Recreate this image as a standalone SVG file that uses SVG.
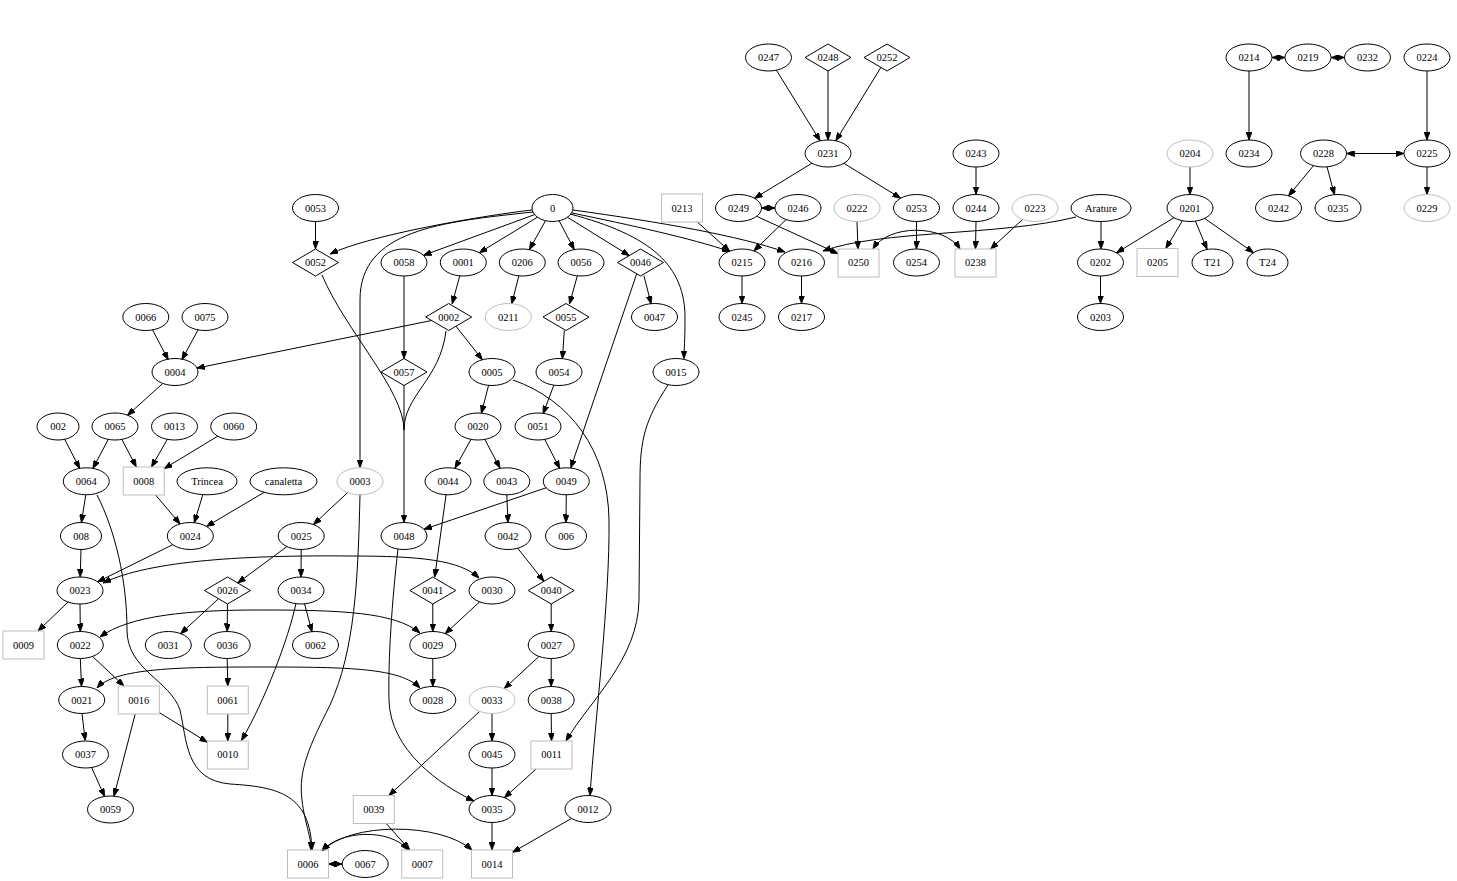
<svg xmlns="http://www.w3.org/2000/svg" width="1457" height="881" viewBox="0 0 1457 881">
<style>
.n ellipse,.n rect,.n polygon{fill:none;stroke:#000;stroke-width:1}
.g ellipse,.g rect,.g polygon{stroke:#bebebe}
text{font-family:"Liberation Serif","Times New Roman",serif;font-size:10.5px;text-anchor:middle;fill:#000}
#edges path{fill:none;stroke:#000;stroke-width:1;marker-end:url(#ah)}
#edges path.bi{marker-start:url(#ah)}
#edges path.nm{marker-end:none}
</style>
<defs>
<marker id="ah" viewBox="0 0 8 6" refX="8" refY="3" markerWidth="8" markerHeight="6" markerUnits="userSpaceOnUse" orient="auto-start-reverse"><path d="M0,0L8,3L0,6z" fill="#000" stroke="#000" stroke-width="0.8"/></marker>
</defs>
<rect width="1457" height="881" fill="#fff"/>
<g id="edges">
<path d="M776.4,70.2L820.1,140.8"/>
<path d="M828,71L828,140"/>
<path d="M880.9,67.4L835.8,140.8"/>
<path d="M812,163.2L754.5,198.3"/>
<path d="M843.9,163.3L900.6,198.2"/>
<path class="bi" d="M761.5,208L775,208"/>
<path d="M786.1,219.6L753.9,250.9"/>
<path d="M697.4,222L729.6,251.2"/>
<path d="M756.6,216.3L838,253.6"/>
<path d="M857,221.5L858,249"/>
<path d="M916.5,221.5L916.5,249"/>
<path d="M976,167L976,194.5"/>
<path d="M976,221.5L975.5,249"/>
<path d="M1022.7,219.3L990.6,249"/>
<path class="bi" d="M873,249C888,224 944,224 960,249"/>
<path d="M1076,217C1000,236 880,230 823,251"/>
<path d="M1101,221.5L1101,249"/>
<path d="M1190,167L1190,194.5"/>
<path d="M1174,217.7L1116.5,252.8"/>
<path d="M1182.4,220.7L1165.8,248.5"/>
<path d="M1195.4,221.1L1207.1,249.4"/>
<path d="M1204.7,218.4L1253.5,252.7"/>
<path d="M1100.5,276L1100.5,303.5"/>
<path d="M742,276L742,303.5"/>
<path d="M801.5,276L801.5,303.5"/>
<path class="bi" d="M1272,57.5L1285,57.5"/>
<path class="bi" d="M1331,57.5L1344.5,57.5"/>
<path d="M1249,71L1249,140"/>
<path d="M1427,71L1427,140"/>
<path class="bi" d="M1346.5,153.5L1404,153.5"/>
<path d="M1427,167L1427,194.5"/>
<path d="M1313.5,165.6L1288.5,195.9"/>
<path d="M1327,166.8L1334.5,194.7"/>
<path d="M315.5,221.5L315.5,249"/>
<path d="M532,210C480,216 370,235 330,254"/>
<path d="M533,212C440,222 360,230 360,300L360,467.5"/>
<path d="M534.6,214.6L423.5,255.3"/>
<path d="M537.5,217.2L479.3,252.7"/>
<path d="M545.5,220.7L529.4,249.6"/>
<path d="M559.2,220.8L574.2,249.6"/>
<path d="M567.5,217.3L629.3,255.6"/>
<path d="M572,213C630,225 690,238 730,251.5"/>
<path d="M573,210C660,222 740,236 785,252"/>
<path d="M570,214C650,235 686,265 685,320C685,340 684,350 684,358.5"/>
<path d="M459.8,275.6L452.2,303.8"/>
<path d="M431.6,320.5L196.8,368.1"/>
<path d="M456,326.2L482.3,359.7"/>
<path class="nm" d="M446,331C440,380 404,395 404,430"/>
<path class="nm" d="M322,275C345,330 404,390 404,430"/>
<path d="M404,276L404,358.5"/>
<path d="M404,385.5L404,522.5"/>
<path d="M518.9,275.6L511.7,303.9"/>
<path d="M577.4,275.6L569.5,303.9"/>
<path d="M564.3,330.5L562.4,358.9"/>
<path d="M643.9,275.6L651.1,303.9"/>
<path d="M636.7,273.8L570.8,467.9"/>
<path d="M488.6,385.1L481.4,413.4"/>
<path d="M513,380C570,400 608,450 609,520C610,600 595,720 590,795.5"/>
<path d="M553.9,385L543.1,413.8"/>
<path d="M544.7,439.4L559.7,468.4"/>
<path d="M668,385C645,420 640,440 640,480L639,600C638,660 590,700 566,741"/>
<path d="M471,439.3L455,468.2"/>
<path d="M484.8,439.4L500,468.1"/>
<path d="M546.4,487.7L423.9,529.3"/>
<path d="M566.3,494.5L566,522.5"/>
<path d="M506.8,494.5L508,522.5"/>
<path d="M446.1,494.4L434.7,577"/>
<path d="M517.7,548.2L543.9,581.3"/>
<path d="M551.2,604L551.2,631.5"/>
<path d="M432.8,604L432.8,631.5"/>
<path d="M479.7,601.8L445.1,633.7"/>
<path d="M432.8,658.5L432.8,686.5"/>
<path d="M539,656.4L504.2,688.6"/>
<path d="M551.2,658.5L551.2,686.5"/>
<path d="M551.2,713.5L551.5,741"/>
<path d="M492,713.5L492,741"/>
<path d="M479.7,711.4L388.9,795.5"/>
<path d="M492,768L492,795.5"/>
<path d="M536.1,769L504.4,797.7"/>
<path d="M398,549C392,600 388,660 389,700C390,750 440,785 474,801"/>
<path d="M492,822.5L492,850"/>
<path d="M571.5,818.4L512.5,852.3"/>
<path d="M386.2,823.5L409.8,850"/>
<path class="bi" d="M328.5,864L342,864"/>
<path class="bi" d="M322,851C340,830 390,828 408,850"/>
<path class="bi" d="M322,851C350,822 440,822 472,850"/>
<path d="M347.8,492.4L313.4,524.6"/>
<path d="M360,494.5C358,580 355,650 330,705C310,745 298,770 302,800C305,825 311,835 311,850"/>
<path d="M286.9,546.6L237.7,583"/>
<path d="M301.2,549.5L301,577"/>
<path d="M218.5,598.7L180.6,633.7"/>
<path d="M227.5,604L227.2,631.5"/>
<path d="M227.2,658.5L227.8,686"/>
<path d="M227.8,714L227.8,741"/>
<path d="M304.5,603.6L312,631.9"/>
<path d="M296,603.5C288,640 265,700 241.5,740.5"/>
<path d="M159.3,712.6L207.3,742.2"/>
<path d="M135.2,714L114,796.2"/>
<path d="M80.3,658.5L81.5,686.5"/>
<path d="M92.5,656.4L124,686"/>
<path d="M82,713.5L85.2,740.5"/>
<path d="M91.4,767L104.6,796.5"/>
<path d="M68.1,602L38,631"/>
<path d="M80,604L80.3,631.5"/>
<path d="M81,549.5L80.2,577"/>
<path d="M172.7,544.7L97.6,581.8"/>
<path d="M85.8,494.8L81.4,522.5"/>
<path d="M97,495C115,530 127,580 127,630C127,670 170,680 180,710C187,740 185,780 230,784C280,787 310,795 312,850"/>
<path d="M64.6,439.2L79.7,468.5"/>
<path d="M108.3,439.3L92.9,468.5"/>
<path d="M121.8,439.3L136.3,467"/>
<path d="M167.4,439.1L151.5,467"/>
<path d="M217.7,436.2L164.2,468.6"/>
<path d="M155.6,495L180.1,524"/>
<path d="M203,494L194.3,522.8"/>
<path d="M264.6,492.1L206.5,526.4"/>
<path d="M162.5,383.7L127.5,415.3"/>
<path d="M152.5,329.8L168.2,359.7"/>
<path d="M198.1,329.8L181.9,359.7"/>
<path class="bi" d="M103,583C150,560 250,555 350,556C420,556 460,560 479,578"/>
<path class="bi" d="M100,637C130,615 190,610 260,610C340,610 395,612 420,633"/>
<path class="bi" d="M97,688C115,668 180,667 260,667C350,667 400,668 420,688"/>
</g>
<g id="n0247" class="n"><ellipse cx="768.5" cy="57.5" rx="23" ry="13.5"/><text x="768.5" y="61.1">0247</text></g>
<g id="n0248" class="n"><polygon points="805,57.5 828,44 851,57.5 828,71"/><text x="828" y="61.1">0248</text></g>
<g id="n0252" class="n"><polygon points="864,57.5 887,44 910,57.5 887,71"/><text x="887" y="61.1">0252</text></g>
<g id="n0214" class="n"><ellipse cx="1249" cy="57.5" rx="23" ry="13.5"/><text x="1249" y="61.1">0214</text></g>
<g id="n0219" class="n"><ellipse cx="1308" cy="57.5" rx="23" ry="13.5"/><text x="1308" y="61.1">0219</text></g>
<g id="n0232" class="n"><ellipse cx="1367.5" cy="57.5" rx="23" ry="13.5"/><text x="1367.5" y="61.1">0232</text></g>
<g id="n0224" class="n"><ellipse cx="1427" cy="57.5" rx="23" ry="13.5"/><text x="1427" y="61.1">0224</text></g>
<g id="n0231" class="n"><ellipse cx="828" cy="153.5" rx="23" ry="13.5"/><text x="828" y="157.1">0231</text></g>
<g id="n0243" class="n"><ellipse cx="976" cy="153.5" rx="23" ry="13.5"/><text x="976" y="157.1">0243</text></g>
<g id="n0204" class="n g"><ellipse cx="1190" cy="153.5" rx="23" ry="13.5"/><text x="1190" y="157.1">0204</text></g>
<g id="n0234" class="n"><ellipse cx="1249" cy="153.5" rx="23" ry="13.5"/><text x="1249" y="157.1">0234</text></g>
<g id="n0228" class="n"><ellipse cx="1323.5" cy="153.5" rx="23" ry="13.5"/><text x="1323.5" y="157.1">0228</text></g>
<g id="n0225" class="n"><ellipse cx="1427" cy="153.5" rx="23" ry="13.5"/><text x="1427" y="157.1">0225</text></g>
<g id="n0053" class="n"><ellipse cx="315.5" cy="208" rx="23" ry="13.5"/><text x="315.5" y="211.6">0053</text></g>
<g id="n0" class="n"><ellipse cx="552.5" cy="208" rx="20.5" ry="13.5"/><text x="552.5" y="211.6">0</text></g>
<g id="n0213" class="n g"><rect x="661.5" y="194" width="41" height="28"/><text x="682" y="211.6">0213</text></g>
<g id="n0249" class="n"><ellipse cx="738.5" cy="208" rx="23" ry="13.5"/><text x="738.5" y="211.6">0249</text></g>
<g id="n0246" class="n"><ellipse cx="798" cy="208" rx="23" ry="13.5"/><text x="798" y="211.6">0246</text></g>
<g id="n0222" class="n g"><ellipse cx="857" cy="208" rx="23" ry="13.5"/><text x="857" y="211.6">0222</text></g>
<g id="n0253" class="n"><ellipse cx="916.5" cy="208" rx="23" ry="13.5"/><text x="916.5" y="211.6">0253</text></g>
<g id="n0244" class="n"><ellipse cx="976" cy="208" rx="23" ry="13.5"/><text x="976" y="211.6">0244</text></g>
<g id="n0223" class="n g"><ellipse cx="1035" cy="208" rx="23" ry="13.5"/><text x="1035" y="211.6">0223</text></g>
<g id="nArature" class="n"><ellipse cx="1101" cy="208" rx="30" ry="13.5"/><text x="1101" y="211.6">Arature</text></g>
<g id="n0201" class="n"><ellipse cx="1190" cy="208" rx="23" ry="13.5"/><text x="1190" y="211.6">0201</text></g>
<g id="n0242" class="n"><ellipse cx="1278.5" cy="208" rx="23" ry="13.5"/><text x="1278.5" y="211.6">0242</text></g>
<g id="n0235" class="n"><ellipse cx="1338" cy="208" rx="23" ry="13.5"/><text x="1338" y="211.6">0235</text></g>
<g id="n0229" class="n g"><ellipse cx="1427" cy="208" rx="23" ry="13.5"/><text x="1427" y="211.6">0229</text></g>
<g id="n0052" class="n"><polygon points="292.5,262.5 315.5,249 338.5,262.5 315.5,276"/><text x="315.5" y="266.1">0052</text></g>
<g id="n0058" class="n"><ellipse cx="404" cy="262.5" rx="23" ry="13.5"/><text x="404" y="266.1">0058</text></g>
<g id="n0001" class="n"><ellipse cx="463.3" cy="262.5" rx="23" ry="13.5"/><text x="463.3" y="266.1">0001</text></g>
<g id="n0206" class="n"><ellipse cx="522.3" cy="262.5" rx="23" ry="13.5"/><text x="522.3" y="266.1">0206</text></g>
<g id="n0056" class="n"><ellipse cx="581" cy="262.5" rx="23" ry="13.5"/><text x="581" y="266.1">0056</text></g>
<g id="n0046" class="n"><polygon points="617.5,262.5 640.5,249 663.5,262.5 640.5,276"/><text x="640.5" y="266.1">0046</text></g>
<g id="n0215" class="n"><ellipse cx="742" cy="262.5" rx="23" ry="13.5"/><text x="742" y="266.1">0215</text></g>
<g id="n0216" class="n"><ellipse cx="801.5" cy="262.5" rx="23" ry="13.5"/><text x="801.5" y="266.1">0216</text></g>
<g id="n0250" class="n g"><rect x="838" y="249" width="41" height="28"/><text x="858.5" y="266.1">0250</text></g>
<g id="n0254" class="n"><ellipse cx="916.5" cy="262.5" rx="23" ry="13.5"/><text x="916.5" y="266.1">0254</text></g>
<g id="n0238" class="n g"><rect x="955" y="249" width="41" height="28"/><text x="975.5" y="266.1">0238</text></g>
<g id="n0202" class="n"><ellipse cx="1100.5" cy="262.5" rx="23" ry="13.5"/><text x="1100.5" y="266.1">0202</text></g>
<g id="n0205" class="n g"><rect x="1137" y="248.5" width="41" height="28"/><text x="1157.5" y="266.1">0205</text></g>
<g id="nT21" class="n"><ellipse cx="1212.5" cy="262.5" rx="20.5" ry="13.5"/><text x="1212.5" y="266.1">T21</text></g>
<g id="nT24" class="n"><ellipse cx="1267.5" cy="262.5" rx="20.5" ry="13.5"/><text x="1267.5" y="266.1">T24</text></g>
<g id="n0066" class="n"><ellipse cx="145.8" cy="317" rx="23" ry="13.5"/><text x="145.8" y="320.6">0066</text></g>
<g id="n0075" class="n"><ellipse cx="205" cy="317" rx="23" ry="13.5"/><text x="205" y="320.6">0075</text></g>
<g id="n0002" class="n"><polygon points="425.7,317 448.7,303.5 471.7,317 448.7,330.5"/><text x="448.7" y="320.6">0002</text></g>
<g id="n0211" class="n g"><ellipse cx="508.3" cy="317" rx="23" ry="13.5"/><text x="508.3" y="320.6">0211</text></g>
<g id="n0055" class="n"><polygon points="543,317 566,303.5 589,317 566,330.5"/><text x="566" y="320.6">0055</text></g>
<g id="n0047" class="n"><ellipse cx="654.5" cy="317" rx="23" ry="13.5"/><text x="654.5" y="320.6">0047</text></g>
<g id="n0245" class="n"><ellipse cx="742" cy="317" rx="23" ry="13.5"/><text x="742" y="320.6">0245</text></g>
<g id="n0217" class="n"><ellipse cx="801.5" cy="317" rx="23" ry="13.5"/><text x="801.5" y="320.6">0217</text></g>
<g id="n0203" class="n"><ellipse cx="1100.5" cy="317" rx="23" ry="13.5"/><text x="1100.5" y="320.6">0203</text></g>
<g id="n0004" class="n"><ellipse cx="175" cy="372" rx="23" ry="13.5"/><text x="175" y="375.6">0004</text></g>
<g id="n0057" class="n"><polygon points="381,372 404,358.5 427,372 404,385.5"/><text x="404" y="375.6">0057</text></g>
<g id="n0005" class="n"><ellipse cx="492" cy="372" rx="23" ry="13.5"/><text x="492" y="375.6">0005</text></g>
<g id="n0054" class="n"><ellipse cx="559" cy="372" rx="23" ry="13.5"/><text x="559" y="375.6">0054</text></g>
<g id="n0015" class="n"><ellipse cx="676" cy="372" rx="23" ry="13.5"/><text x="676" y="375.6">0015</text></g>
<g id="n002" class="n"><ellipse cx="58" cy="426.5" rx="21" ry="13.5"/><text x="58" y="430.1">002</text></g>
<g id="n0065" class="n"><ellipse cx="115" cy="426.5" rx="23" ry="13.5"/><text x="115" y="430.1">0065</text></g>
<g id="n0013" class="n"><ellipse cx="174.5" cy="426.5" rx="23" ry="13.5"/><text x="174.5" y="430.1">0013</text></g>
<g id="n0060" class="n"><ellipse cx="233.7" cy="426.5" rx="23" ry="13.5"/><text x="233.7" y="430.1">0060</text></g>
<g id="n0020" class="n"><ellipse cx="478" cy="426.5" rx="23" ry="13.5"/><text x="478" y="430.1">0020</text></g>
<g id="n0051" class="n"><ellipse cx="538" cy="426.5" rx="23" ry="13.5"/><text x="538" y="430.1">0051</text></g>
<g id="n0064" class="n"><ellipse cx="86.3" cy="481.3" rx="23" ry="13.5"/><text x="86.3" y="484.9">0064</text></g>
<g id="n0008" class="n g"><rect x="123.2" y="467" width="41" height="28"/><text x="143.7" y="484.9">0008</text></g>
<g id="nTrincea" class="n"><ellipse cx="207" cy="481.3" rx="30" ry="13.5"/><text x="207" y="484.9">Trincea</text></g>
<g id="ncanaletta" class="n"><ellipse cx="283.5" cy="481.3" rx="33.5" ry="13.5"/><text x="283.5" y="484.9">canaletta</text></g>
<g id="n0003" class="n g"><ellipse cx="360" cy="481.3" rx="23" ry="13.5"/><text x="360" y="484.9">0003</text></g>
<g id="n0044" class="n"><ellipse cx="448" cy="481.3" rx="23" ry="13.5"/><text x="448" y="484.9">0044</text></g>
<g id="n0043" class="n"><ellipse cx="506.8" cy="481.3" rx="23" ry="13.5"/><text x="506.8" y="484.9">0043</text></g>
<g id="n0049" class="n"><ellipse cx="566.3" cy="481.3" rx="23" ry="13.5"/><text x="566.3" y="484.9">0049</text></g>
<g id="n008" class="n"><ellipse cx="81" cy="536" rx="20.5" ry="13.5"/><text x="81" y="539.6">008</text></g>
<g id="n0024" class="n"><ellipse cx="190.3" cy="536" rx="23" ry="13.5"/><text x="190.3" y="539.6">0024</text></g>
<g id="n0025" class="n"><ellipse cx="301.2" cy="536" rx="23" ry="13.5"/><text x="301.2" y="539.6">0025</text></g>
<g id="n0048" class="n"><ellipse cx="404" cy="536" rx="23" ry="13.5"/><text x="404" y="539.6">0048</text></g>
<g id="n0042" class="n"><ellipse cx="508" cy="536" rx="23" ry="13.5"/><text x="508" y="539.6">0042</text></g>
<g id="n006" class="n"><ellipse cx="566" cy="536" rx="20.5" ry="13.5"/><text x="566" y="539.6">006</text></g>
<g id="n0023" class="n"><ellipse cx="80" cy="590.5" rx="23" ry="13.5"/><text x="80" y="594.1">0023</text></g>
<g id="n0026" class="n"><polygon points="204.5,590.5 227.5,577 250.5,590.5 227.5,604"/><text x="227.5" y="594.1">0026</text></g>
<g id="n0034" class="n"><ellipse cx="301" cy="590.5" rx="23" ry="13.5"/><text x="301" y="594.1">0034</text></g>
<g id="n0041" class="n"><polygon points="409.8,590.5 432.8,577 455.8,590.5 432.8,604"/><text x="432.8" y="594.1">0041</text></g>
<g id="n0030" class="n"><ellipse cx="492" cy="590.5" rx="23" ry="13.5"/><text x="492" y="594.1">0030</text></g>
<g id="n0040" class="n"><polygon points="528.2,590.5 551.2,577 574.2,590.5 551.2,604"/><text x="551.2" y="594.1">0040</text></g>
<g id="n0009" class="n g"><rect x="3" y="631" width="41" height="28"/><text x="23.5" y="648.6">0009</text></g>
<g id="n0022" class="n"><ellipse cx="80.3" cy="645" rx="23" ry="13.5"/><text x="80.3" y="648.6">0022</text></g>
<g id="n0031" class="n"><ellipse cx="168.3" cy="645" rx="23" ry="13.5"/><text x="168.3" y="648.6">0031</text></g>
<g id="n0036" class="n"><ellipse cx="227.2" cy="645" rx="23" ry="13.5"/><text x="227.2" y="648.6">0036</text></g>
<g id="n0062" class="n"><ellipse cx="315.5" cy="645" rx="23" ry="13.5"/><text x="315.5" y="648.6">0062</text></g>
<g id="n0029" class="n"><ellipse cx="432.8" cy="645" rx="23" ry="13.5"/><text x="432.8" y="648.6">0029</text></g>
<g id="n0027" class="n"><ellipse cx="551.2" cy="645" rx="23" ry="13.5"/><text x="551.2" y="648.6">0027</text></g>
<g id="n0021" class="n"><ellipse cx="81.7" cy="700" rx="23" ry="13.5"/><text x="81.7" y="703.6">0021</text></g>
<g id="n0016" class="n g"><rect x="118.3" y="686" width="41" height="28"/><text x="138.8" y="703.6">0016</text></g>
<g id="n0061" class="n g"><rect x="207.3" y="686" width="41" height="28"/><text x="227.8" y="703.6">0061</text></g>
<g id="n0028" class="n"><ellipse cx="432.8" cy="700" rx="23" ry="13.5"/><text x="432.8" y="703.6">0028</text></g>
<g id="n0033" class="n g"><ellipse cx="492" cy="700" rx="23" ry="13.5"/><text x="492" y="703.6">0033</text></g>
<g id="n0038" class="n"><ellipse cx="551.2" cy="700" rx="23" ry="13.5"/><text x="551.2" y="703.6">0038</text></g>
<g id="n0037" class="n"><ellipse cx="85.5" cy="754.5" rx="23" ry="13.5"/><text x="85.5" y="758.1">0037</text></g>
<g id="n0010" class="n g"><rect x="207.3" y="741" width="41" height="28"/><text x="227.8" y="758.1">0010</text></g>
<g id="n0045" class="n"><ellipse cx="492" cy="754.5" rx="23" ry="13.5"/><text x="492" y="758.1">0045</text></g>
<g id="n0011" class="n g"><rect x="531" y="741" width="41" height="28"/><text x="551.5" y="758.1">0011</text></g>
<g id="n0059" class="n"><ellipse cx="110.5" cy="809.5" rx="23" ry="13.5"/><text x="110.5" y="813.1">0059</text></g>
<g id="n0039" class="n g"><rect x="353.3" y="795.5" width="41" height="28"/><text x="373.8" y="813.1">0039</text></g>
<g id="n0035" class="n"><ellipse cx="492" cy="809" rx="23" ry="13.5"/><text x="492" y="812.6">0035</text></g>
<g id="n0012" class="n"><ellipse cx="588" cy="809" rx="23" ry="13.5"/><text x="588" y="812.6">0012</text></g>
<g id="n0006" class="n g"><rect x="287.5" y="850" width="41" height="28"/><text x="308" y="867.6">0006</text></g>
<g id="n0067" class="n"><ellipse cx="365.2" cy="864" rx="23" ry="13.5"/><text x="365.2" y="867.6">0067</text></g>
<g id="n0007" class="n g"><rect x="401.7" y="850" width="41" height="28"/><text x="422.2" y="867.6">0007</text></g>
<g id="n0014" class="n g"><rect x="471.5" y="850" width="41" height="28"/><text x="492" y="867.6">0014</text></g>
</svg>
